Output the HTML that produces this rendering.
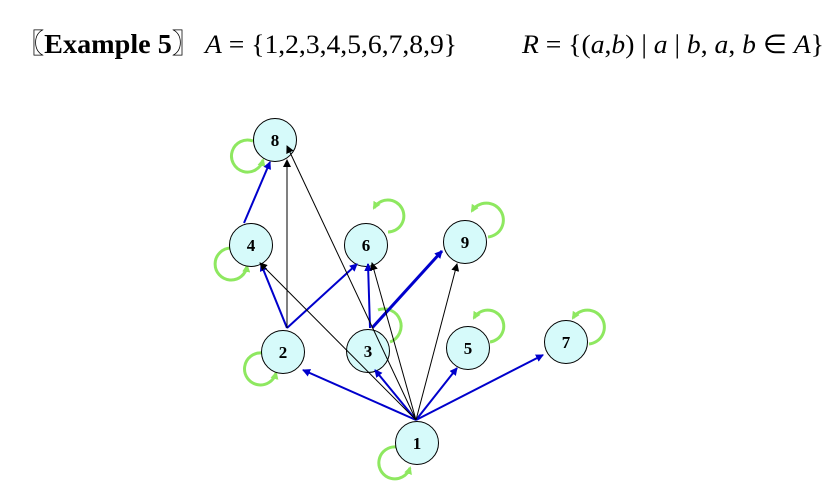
<!DOCTYPE html>
<html><head><style>body{margin:0;background:#fff}svg{display:block}</style></head><body>
<svg width="836" height="482" viewBox="0 0 836 482" xmlns="http://www.w3.org/2000/svg">
<defs>
<marker id="ab" markerWidth="8" markerHeight="8" refX="7" refY="4" orient="auto" markerUnits="userSpaceOnUse"><path d="M0,0 L8,4 L0,8 z" fill="#0000cc"/></marker>
<marker id="ak" markerWidth="8" markerHeight="8" refX="7" refY="4" orient="auto" markerUnits="userSpaceOnUse"><path d="M0,0 L8,4 L0,8 z" fill="#000"/></marker>
<marker id="ag" markerWidth="8" markerHeight="8" refX="6" refY="4" orient="auto" markerUnits="userSpaceOnUse"><path d="M0,0 L8,4 L0,8 z" fill="#8ee860"/></marker>
</defs>
<text x="16" y="53" font-family="Liberation Serif, 'Noto Serif CJK SC', serif" font-weight="bold" font-size="27" textLength="184" lengthAdjust="spacingAndGlyphs">〖Example 5〗</text>
<text x="205" y="53" font-family="Liberation Serif, serif" font-size="26" textLength="252" lengthAdjust="spacingAndGlyphs"><tspan font-style="italic">A</tspan> = {1,2,3,4,5,6,7,8,9}</text>
<text x="522" y="53" font-family="Liberation Serif, serif" font-size="26" textLength="302" lengthAdjust="spacingAndGlyphs"><tspan font-style="italic">R</tspan> = {(<tspan font-style="italic">a</tspan>,<tspan font-style="italic">b</tspan>) | <tspan font-style="italic">a</tspan> | <tspan font-style="italic">b</tspan>, <tspan font-style="italic">a</tspan>, <tspan font-style="italic">b</tspan> ∈ <tspan font-style="italic">A</tspan>}</text>

<g fill="none" stroke-width="3" stroke="#8ee860">
<path d="M253,141 A16,16 0 1 0 263,160" marker-end="url(#ag)"/>
<path d="M231,248 A16,16 0 1 0 247,266" marker-end="url(#ag)"/>
<path d="M388,232 A16,16 0 1 0 374,208" marker-end="url(#ag)"/>
<path d="M488,237 A17,17 0 1 0 472,211" marker-end="url(#ag)"/>
<path d="M262,353 A16,16 0 1 0 276,373" marker-end="url(#ag)"/>
<path d="M390,342 A16,16 0 1 0 378,310"/>
<path d="M490,342 A16,16 0 1 0 474,318" marker-end="url(#ag)"/>
<path d="M589,344 A17,17 0 1 0 573,318" marker-end="url(#ag)"/>
<path d="M397,447 A16,16 0 1 0 410,468" marker-end="url(#ag)"/>
</g>

<g fill="#d6fafa" stroke="#000" stroke-width="1">
<circle cx="275" cy="140" r="21.5"/>
<circle cx="251" cy="245" r="21.5"/>
<circle cx="366" cy="245" r="21.5"/>
<circle cx="465" cy="242" r="21.5"/>
<circle cx="283" cy="352" r="21.5"/>
<circle cx="368" cy="351" r="21.5"/>
<circle cx="468" cy="348" r="21.5"/>
<circle cx="566" cy="342" r="21.5"/>
<circle cx="417" cy="443" r="21.5"/>
</g>

<g stroke="#0000cc" stroke-width="2" fill="none">
<line x1="416" y1="420" x2="303" y2="370" marker-end="url(#ab)"/>
<line x1="416" y1="420" x2="375" y2="370" marker-end="url(#ab)"/>
<line x1="416" y1="420" x2="457" y2="368" marker-end="url(#ab)"/>
<line x1="416" y1="420" x2="543" y2="355" marker-end="url(#ab)"/>
<line x1="287" y1="328" x2="261" y2="264" marker-end="url(#ab)"/>
<line x1="287" y1="328" x2="357" y2="264" marker-end="url(#ab)"/>
<line x1="370" y1="328" x2="368" y2="264" marker-end="url(#ab)"/>
<line x1="372" y1="328" x2="442" y2="251" stroke-width="3" marker-end="url(#ab)"/>
<line x1="244" y1="223" x2="270" y2="162" marker-end="url(#ab)"/>
</g>
<g stroke="#000" stroke-width="1" fill="none">
<line x1="416" y1="420" x2="260" y2="263" marker-end="url(#ak)"/>
<line x1="416" y1="420" x2="287" y2="146" marker-end="url(#ak)"/>
<line x1="416" y1="420" x2="372" y2="263" marker-end="url(#ak)"/>
<line x1="416" y1="420" x2="457" y2="264" marker-end="url(#ak)"/>
<line x1="287" y1="328" x2="287" y2="160" marker-end="url(#ak)"/>
</g>

<g font-family="Liberation Serif, serif" font-weight="bold" font-size="17" text-anchor="middle">
<text x="275" y="146">8</text>
<text x="251" y="251">4</text>
<text x="366" y="251">6</text>
<text x="465" y="248">9</text>
<text x="283" y="358">2</text>
<text x="368" y="357">3</text>
<text x="468" y="354">5</text>
<text x="566" y="348">7</text>
<text x="417" y="449">1</text>
</g>
</svg>
</body></html>
